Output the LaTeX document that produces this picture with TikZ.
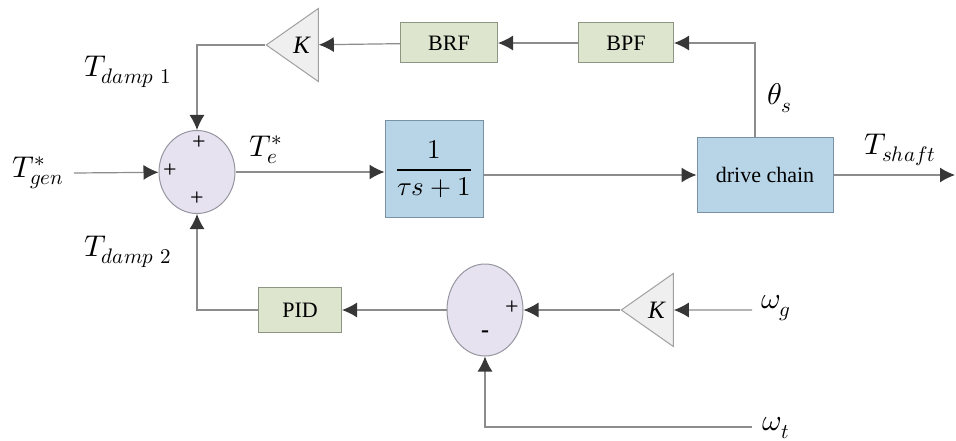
\documentclass[tikz,border=0pt]{standalone}
\usepackage{fontspec}
\usepackage{unicode-math}
\setmainfont{Liberation Serif}
\setmathfont{Latin Modern Math}
\usetikzlibrary{arrows.meta,shapes.geometric}
\definecolor{sumfill}{RGB}{230,226,240}
\definecolor{sumdraw}{RGB}{150,150,160}
\definecolor{grfill}{RGB}{221,229,207}
\definecolor{grdraw}{RGB}{140,150,130}
\definecolor{blfill}{RGB}{184,213,232}
\definecolor{bldraw}{RGB}{120,145,165}
\definecolor{trfill}{RGB}{239,239,239}
\definecolor{trdraw}{RGB}{160,160,160}
\definecolor{linegray}{RGB}{140,140,140}
\definecolor{tipgray}{RGB}{55,55,55}
\begin{document}
\begin{tikzpicture}[
 x=1pt,y=-1pt,
 every node/.style={font=\fontsize{22}{26}\selectfont},
 sumnode/.style={ellipse,draw=sumdraw,fill=sumfill,line width=1pt,inner sep=0pt,minimum width=76pt},
 gbox/.style={draw=grdraw,fill=grfill,line width=1pt,minimum height=40pt},
 bbox/.style={draw=bldraw,fill=blfill,line width=1pt},
 gain/.style={isosceles triangle,isosceles triangle stretches,shape border rotate=180,
  draw=trdraw,fill=trfill,line width=1pt,inner sep=0pt,minimum width=73pt,minimum height=52pt,
  font=\fontsize{25}{28}\selectfont\itshape},
 lbl/.style={font=\fontsize{30}{34}\selectfont},
 sgn/.style={font=\fontsize{24}{26}\selectfont,inner sep=0pt},
 sig/.style={draw=linegray,line width=1.2pt,-{Latex[length=15pt,width=15pt,color=tipgray]}}
]
 \useasboundingbox (0,0) rectangle (956,441);

 % forward path
 \node[sumnode,minimum height=83pt] (sum1) at (197,172) {};
 \node[bbox,minimum width=98pt,minimum height=97pt,font=\fontsize{27}{30}\selectfont]
  (tf) at (434,169) {$\dfrac{1}{\tau s+1}$};
 \node[bbox,minimum width=136pt,minimum height=74pt] (drive) at (765,175) {drive chain};
 \coordinate (gen) at (74,173);
 \coordinate (out) at (955,175);
 \node[lbl] (Tgen) at (38,173) {$T_{gen}^{*}$};
 \node[lbl] (Te) at (266,150) {$T_{e}^{*}$};
 \node[lbl] (Tshaft) at (900,150) {$T_{shaft}$};

 \draw[sig] (gen) -- (sum1);
 \draw[sig] (sum1.east) -- (sum1.east -| tf.west);
 \draw[sig] (tf.east |- drive) -- (drive.west);
 \draw[sig] (drive.east) -- (out);

 % upper damping loop
 \node[gbox,minimum width=95pt] (bpf) at (626,43) {BPF};
 \node[gbox,minimum width=97pt] (brf) at (449,43) {BRF};
 \node[gain,anchor=apex] (k1) at (265,45) {K};
 \node[lbl] (theta) at (780,98) {$\theta_{s}$};
 \node[lbl] (Td1) at (128,72) {$T_{damp\ 1}$};

 \draw[sig] ([xshift=-10pt]drive.north) |- (bpf.east);
 \draw[sig] (bpf) -- (brf);
 \draw[sig] (brf) -- (k1);
 \draw[sig] (k1.apex) -| (sum1.north);

 % lower damping loop
 \node[sumnode,minimum height=92pt] (sum2) at (485,310) {};
 \node[gbox,minimum width=83pt,minimum height=45pt] (pid) at (300,310) {PID};
 \node[gain,anchor=apex] (k2) at (620,310) {K};
 \coordinate (wg) at (752,310);
 \coordinate (wt) at (752,427);
 \node[lbl] (omg) at (776,308) {$\omega_{g}$};
 \node[lbl] (omt) at (776,428) {$\omega_{t}$};
 \node[lbl] (Td2) at (128,252) {$T_{damp\ 2}$};

 \draw[sig] (wg) -- (k2);
 \draw[sig] (k2.apex) -- (sum2);
 \draw[sig] (sum2) -- (pid);
 \draw[sig] (pid.west) -| (sum1.south);
 \draw[sig] (wt) -| (sum2.south);

 % signs
 \node[sgn] (p1) at (199,143) {+};
 \node[sgn] (p2) at (170,171) {+};
 \node[sgn] (p3) at (197,199) {+};
 \node[sgn] (p4) at (512,308) {+};
 \node[sgn,font=\fontsize{24}{26}\selectfont\bfseries] (m1) at (485,334) {-};
\end{tikzpicture}
\end{document}
